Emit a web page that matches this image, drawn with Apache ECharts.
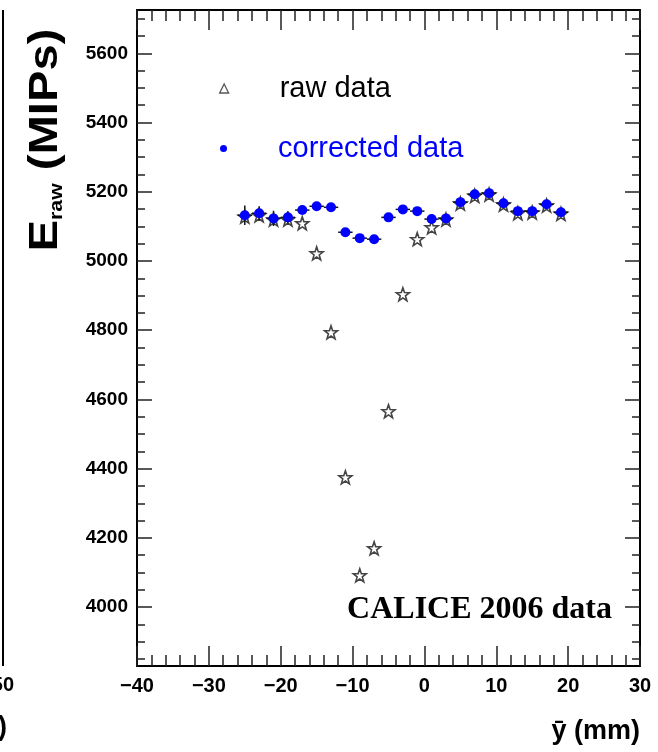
<!DOCTYPE html>
<html>
<head>
<meta charset="utf-8">
<script src="https://cdn.jsdelivr.net/npm/echarts@6/dist/echarts.min.js"></script>
<style>
html,body{margin:0;padding:0;background:#fff;}
#chart{width:658px;height:752px;}
</style>
</head>
<body>
<div id="chart"></div>
<script>
// ---- data ----
var yBar = [-25,-23,-21,-19,-17,-15,-13,-11,-9,-7,-5,-3,-1,1,3,5,7,9,11,13,15,17,19];
var rawData = [5128,5132,5120,5120,5109,5022,4794,4375,4092,4170,4566,4904,5063,5097,5120,5166,5188,5192,5163,5138,5140,5160,5136];
var correctedData = [5132,5138,5123,5126,5147,5158,5155,5083,5066,5063,5126,5149,5144,5121,5123,5170,5193,5196,5167,5144,5144,5164,5141];
var xErr = [1,1,1,1,1,1,1,1,1,1,1,1,1,1,1,1,1,1,1,1,1,1,1];
var yErr = [28,20,22,18,12,12,12,12,12,12,12,12,12,12,12,12,12,12,12,12,12,12,12];
var yMajorTicks = [4000,4200,4400,4600,4800,5000,5200,5400,5600];
var yMinorTicks = [3850,3900,3950,4050,4100,4150,4250,4300,4350,4450,4500,4550,4650,4700,4750,4850,4900,4950,5050,5100,5150,5250,5300,5350,5450,5500,5550,5650,5700];
var xMin = -40, xMax = 30, xStep = 10;
var yMin = 3830, yMax = 5725;

var starPath = 'path://M0,-10L2.35,-3.24L9.51,-3.09L3.8,1.24L5.88,8.09L0,4.2L-5.88,8.09L-3.8,1.24L-9.51,-3.09L-2.35,-3.24Z';

var rawPts = yBar.map(function(x,i){return [x, rawData[i]];});
var corrPts = yBar.map(function(x,i){return [x, correctedData[i]];});
var errPts = yBar.map(function(x,i){return [x, correctedData[i], xErr[i], yErr[i]];});

var chart = echarts.init(document.getElementById('chart'), null, {renderer:'canvas'});

function minus(v){ return String(v).replace('-', '\u2212'); }
function plain(v){ return String(v); }

var frameLine = {show:true, onZero:false, lineStyle:{color:'#000', width:2}};
var noLine = {show:false, onZero:false};
var option = {
  animation:false,
  backgroundColor:'#fff',
  grid:{left:137, right:18, top:10, bottom:86, containLabel:false},
  legend:[{
    data:[{name:'raw data', icon:'triangle', itemStyle:{color:'#fff', borderColor:'#555', borderWidth:1.3}}],
    left:214, top:69, itemWidth:9, itemHeight:9, orient:'vertical',
    formatter:function(n){return '{g|}{t|'+n+'}';},
    textStyle:{rich:{g:{width:46}, t:{fontSize:29, fontFamily:'Liberation Sans, Arial, sans-serif', color:'#000'}}}
  },{
    data:[{name:'corrected data', icon:'circle', itemStyle:{color:'#0000ff', borderWidth:0}}],
    left:215, top:129, itemWidth:7, itemHeight:7, orient:'vertical',
    formatter:function(n){return '{g|}{t|'+n+'}';},
    textStyle:{rich:{g:{width:46}, t:{fontSize:29, fontFamily:'Liberation Sans, Arial, sans-serif', color:'#0000ff'}}}
  }],
  xAxis:[{
    type:'value', min:xMin, max:xMax, interval:xStep, position:'bottom',
    axisLine:frameLine, splitLine:{show:false},
    axisTick:{show:true, inside:true, length:20, lineStyle:{color:'#222', width:1.5}},
    minorTick:{show:true, splitNumber:5, length:11, lineStyle:{color:'#222', width:1.5}},
    axisLabel:{show:true, margin:10, fontSize:20, fontWeight:'bold', color:'#000', fontFamily:'Liberation Sans, Arial, sans-serif', formatter:minus}
  },{
    type:'value', min:xMin, max:xMax, interval:xStep, position:'top',
    axisLine:frameLine, splitLine:{show:false},
    axisTick:{show:true, inside:true, length:20, lineStyle:{color:'#222', width:1.5}},
    minorTick:{show:true, splitNumber:5, length:11, lineStyle:{color:'#222', width:1.5}},
    axisLabel:{show:false}
  }],
  yAxis:[{
    type:'value', min:yMin, max:yMax, position:'left',
    axisLine:frameLine, splitLine:{show:false},
    axisTick:{show:true, inside:true, length:15, customValues:yMajorTicks, lineStyle:{color:'#222', width:1.5}},
    axisLabel:{show:true, margin:9, fontSize:19, fontWeight:'bold', color:'#000', fontFamily:'Liberation Sans, Arial, sans-serif', customValues:yMajorTicks, formatter:plain}
  },{
    type:'value', min:yMin, max:yMax, position:'left',
    axisLine:noLine, splitLine:{show:false},
    axisTick:{show:true, inside:true, length:8, customValues:yMinorTicks, lineStyle:{color:'#222', width:1.5}},
    axisLabel:{show:false}
  },{
    type:'value', min:yMin, max:yMax, position:'right',
    axisLine:frameLine, splitLine:{show:false},
    axisTick:{show:true, inside:true, length:15, customValues:yMajorTicks, lineStyle:{color:'#222', width:1.5}},
    axisLabel:{show:false}
  },{
    type:'value', min:yMin, max:yMax, position:'right',
    axisLine:noLine, splitLine:{show:false},
    axisTick:{show:true, inside:true, length:8, customValues:yMinorTicks, lineStyle:{color:'#222', width:1.5}},
    axisLabel:{show:false}
  }],
  series:[{
    name:'raw data', type:'scatter', xAxisIndex:0, yAxisIndex:0, z:2,
    symbol:starPath, symbolSize:13,
    itemStyle:{color:'#fff', borderColor:'#444', borderWidth:1.6, opacity:1},
    data:rawPts
  },{
    name:'errors', type:'custom', xAxisIndex:0, yAxisIndex:0, z:3,
    renderItem:function(params, api){
      var x = api.value(0), y = api.value(1), ex = api.value(2), ey = api.value(3);
      var l = api.coord([x-ex, y]), r = api.coord([x+ex, y]);
      var t = api.coord([x, y+ey]), b = api.coord([x, y-ey]);
      var st = {stroke:'#111', lineWidth:1.5};
      return {type:'group', children:[
        {type:'line', shape:{x1:l[0], y1:l[1], x2:r[0], y2:r[1]}, style:st},
        {type:'line', shape:{x1:t[0], y1:t[1], x2:b[0], y2:b[1]}, style:st}
      ]};
    },
    data:errPts
  },{
    name:'corrected data', type:'scatter', xAxisIndex:0, yAxisIndex:0, z:4,
    symbol:'circle', symbolSize:10,
    itemStyle:{color:'#0000ff', borderWidth:0, opacity:1},
    data:corrPts
  }],
  graphic:[
    {type:'text', x:44, y:140, rotation:Math.PI/2, scaleX:1.18, scaleY:1, z:10,
     style:{text:'{e|E}{s|raw}{m| (MIPs)}', align:'center', verticalAlign:'middle',
       rich:{
         e:{fontSize:40, fontWeight:'bold', fontFamily:'Liberation Sans, Arial, sans-serif', fill:'#000', verticalAlign:'bottom', lineHeight:44},
         s:{fontSize:18, fontWeight:'bold', fontFamily:'Liberation Sans, Arial, sans-serif', fill:'#000', verticalAlign:'bottom', lineHeight:30},
         m:{fontSize:40, fontWeight:'bold', fontFamily:'Liberation Sans, Arial, sans-serif', fill:'#000', verticalAlign:'bottom', lineHeight:44}
       }}},
    {type:'text', right:18, top:718, z:10,
     style:{text:'\u0233 (mm)', fontSize:27, fontWeight:'bold', fontFamily:'Liberation Sans, Arial, sans-serif', fill:'#000'}},
    {type:'text', x:612, y:610, z:10,
     style:{text:'CALICE 2006 data', align:'right', verticalAlign:'middle', fontSize:32, fontWeight:'bold', fontFamily:'Liberation Serif, Times New Roman, serif', fill:'#000'}},
    {type:'line', shape:{x1:3, y1:10, x2:3, y2:666}, style:{stroke:'#000', lineWidth:2}},
    {type:'text', x:14, y:685, z:10,
     style:{text:'50', align:'right', verticalAlign:'middle', fontSize:20, fontWeight:'bold', fontFamily:'Liberation Sans, Arial, sans-serif', fill:'#000'}},
    {type:'text', x:-2, y:728, z:10,
     style:{text:')', align:'left', verticalAlign:'middle', fontSize:27, fontWeight:'bold', fontFamily:'Liberation Sans, Arial, sans-serif', fill:'#000'}}
  ]
};
chart.setOption(option);
</script>
</body>
</html>
